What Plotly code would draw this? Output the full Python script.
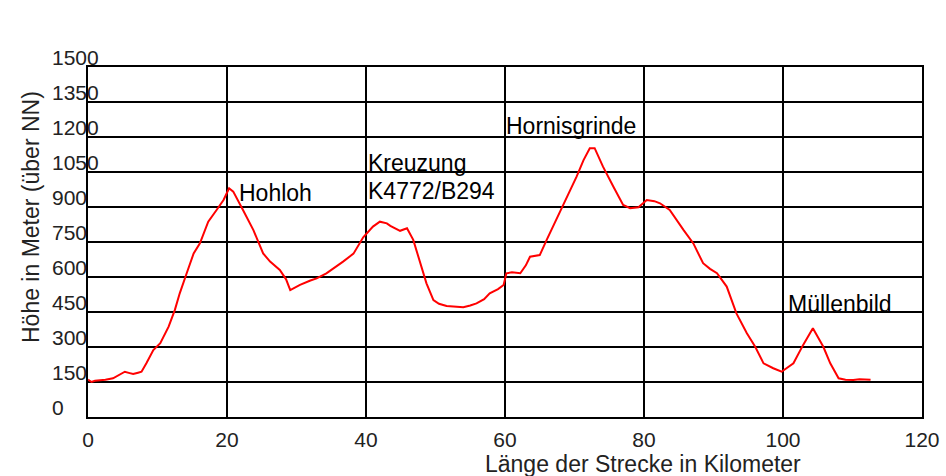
import plotly.graph_objects as go

# distance along route (km) and elevation (m above NN)
km = [0, 0.5, 1.0, 1.7, 2.5, 3.6, 4.5, 5.3, 6.0, 6.5, 7.2, 7.7, 8.4, 9.4, 10.4, 11.6, 12.5, 13.2,
      14.2, 15.2, 16.1, 17.3, 18.5, 19.5, 20.3, 20.9, 22.3, 23.8, 25.2, 26.2, 27.6, 28.5, 29.1, 30.5,
      32.0, 32.9, 34.3, 35.5, 36.7, 38.2, 39.6, 41.0, 42.0, 43.0, 43.5, 44.9, 45.9, 46.8, 47.8, 48.7,
      49.7, 50.5, 51.6, 53.0, 54.0, 55.0, 55.9, 57.0, 57.8, 59.0, 59.8, 60.2, 61.0, 62.2, 63.0, 63.6,
      65.0, 66.0, 66.9, 68.4, 69.5, 70.3, 71.3, 72.2, 72.9, 74.1, 75.6, 77.0, 78.0, 79.2, 80.4, 81.5,
      82.3, 83.7, 85.7, 87.1, 88.5, 89.5, 90.5, 91.9, 93.3, 94.8, 96.0, 97.2, 98.6, 99.8, 101.5, 102.9,
      104.3, 105.8, 106.8, 108.0, 109.0, 110.1, 111.0, 112.0, 112.6]
elev = [160, 150, 155, 156, 160, 166, 180, 194, 188, 184, 190, 194, 230, 287, 316, 387, 459, 530,
        616, 701, 744, 837, 887, 930, 980, 966, 887, 801, 701, 666, 630, 590, 544, 566,
        585, 594, 616, 640, 666, 700, 770, 816, 837, 830, 819, 798, 809, 759, 659, 573,
        501, 485, 476, 472, 470, 478, 487, 505, 530, 548, 566, 616, 620, 616, 650, 687,
        694, 759, 816, 916, 980, 1030, 1101, 1152, 1152, 1073, 987, 909, 895, 899, 930, 925,
        916, 887, 801, 744, 659, 635, 616, 559, 444, 359, 301, 230, 209, 194, 230, 309,
        380, 301, 230, 166, 160, 159, 162, 159, 160]

x_ticks = [0, 20, 40, 60, 80, 100, 120]
y_ticks = [0, 150, 300, 450, 600, 750, 900, 1050, 1200, 1350, 1500]

FONT = "Arial, Liberation Sans, sans-serif"

fig = go.Figure()
fig.add_trace(go.Scatter(x=km, y=elev, mode="lines",
                         line=dict(color="#ff0000", width=2), showlegend=False,
                         hoverinfo="skip"))

ann = []
# y tick labels, left aligned, sitting on the gridlines
for v in y_ticks:
    ann.append(dict(x=-0.0432, xref="paper", y=v, yref="y", text=str(v), showarrow=False,
                    xanchor="left", yanchor="bottom", yshift=-4, xshift=-2,
                    font=dict(family=FONT, size=21, color="#222222")))
# place labels
labels = [("Hohloh", 21.9, 958), ("Kreuzung", 40.4, 1088), ("K4772/B294", 40.4, 970),
          ("Hornisgrinde", 60.3, 1246), ("Müllenbild", 100.9, 483)]
for t, xx, yy in labels:
    ann.append(dict(x=xx, y=yy, xref="x", yref="y", text=t, showarrow=False,
                    xanchor="left", yanchor="middle", xshift=-3,
                    font=dict(family=FONT, size=23, color="black")))
# axis titles
ann.append(dict(x=(643 - 88) / 834, y=(417 - 464) / 350, xref="paper", yref="paper",
                text="Länge der Strecke in Kilometer", showarrow=False,
                xanchor="center", yanchor="middle",
                font=dict(family=FONT, size=23, color="#222222")))
ann.append(dict(x=(31 - 88) / 834, y=(417 - 217) / 350, xref="paper", yref="paper",
                text="Höhe in Meter (über NN)", showarrow=False, textangle=-90,
                xanchor="center", yanchor="middle",
                font=dict(family=FONT, size=23, color="#222222")))

fig.update_layout(
    width=946, height=476,
    margin=dict(l=88, r=24, t=67, b=59, autoexpand=False),
    paper_bgcolor="white", plot_bgcolor="white",
    annotations=ann,
    xaxis=dict(range=[0, 120], tickvals=x_ticks, ticktext=[str(v) for v in x_ticks],
               showgrid=True, gridcolor="black", gridwidth=2, automargin=False,
               showline=True, linecolor="black", linewidth=2, mirror=True,
               ticks="outside", ticklen=3, tickcolor="rgba(0,0,0,0)",
               tickfont=dict(family=FONT, size=21, color="#222222"), zeroline=False),
    yaxis=dict(range=[0, 1500], tickvals=y_ticks, showticklabels=False, automargin=False,
               showgrid=True, gridcolor="black", gridwidth=2,
               showline=True, linecolor="black", linewidth=2, mirror=True,
               ticks="", zeroline=False),
)

fig.write_html("out.html", config={"responsive": False, "displayModeBar": False},
               post_script="document.body.style.margin='0';document.body.style.overflow='hidden';")
